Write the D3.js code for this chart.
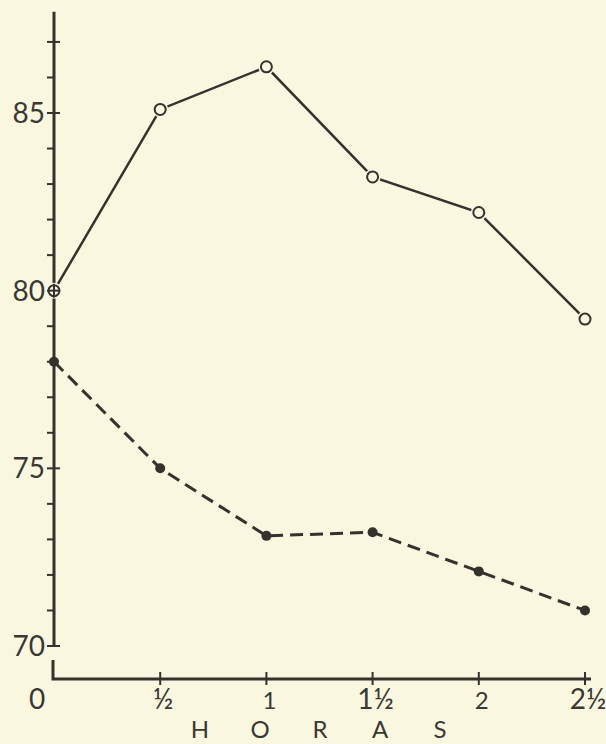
<!DOCTYPE html>
<html lang="es">
<head>
<meta charset="utf-8">
<title>Horas</title>
<script src="https://d3js.org/d3.v7.min.js"></script>
<style>
  body { margin: 0; background: #faf7e1; }
  svg { display: block; }
  .lbl { font-family: Lato, "Open Sans", sans-serif; font-weight: 400; fill: #3a3832; }
</style>
</head>
<body>
<div id="vis"></div>
<script>
// horas
const hours = [0, 0.5, 1, 1.5, 2, 2.5];
const hourLabels = ["0", "½", "1", "1½", "2", "2½"];
// open circles, solid line
const seriesA = [80, 85.1, 86.3, 83.2, 82.2, 79.2];
// filled dots, dashed line
const seriesB = [78.0, 75.0, 73.1, 73.2, 72.1, 71.0];
const yLabelled = [70, 75, 80, 85];
const yTicks = d3.range(70, 88);

const W = 606, H = 744;
const ink = "#34322c";
const bg = "#faf7e1";

const x = d3.scaleLinear().domain([0, 2.5]).range([54, 585]);
const y = d3.scaleLinear().domain([70, 85]).range([646, 113]);
const axisY = 679;

const svg = d3.select("#vis").append("svg")
  .attr("width", W).attr("height", H);

svg.append("rect").attr("width", W).attr("height", H).attr("fill", bg);

// y axis (broken below 70)
svg.append("line")
  .attr("x1", x(0)).attr("x2", x(0))
  .attr("y1", y(87.85)).attr("y2", y(70))
  .attr("stroke", ink).attr("stroke-width", 3);

svg.selectAll(".ytick").data(yTicks).enter().append("line")
  .attr("class", "ytick")
  .attr("x1", d => x(0) - 7)
  .attr("x2", d => (d % 5 === 0 || d === 87) ? x(0) + 6 : x(0))
  .attr("y1", d => y(d)).attr("y2", d => y(d))
  .attr("stroke", ink).attr("stroke-width", 2);

svg.selectAll(".ylab").data(yLabelled).enter().append("text")
  .attr("class", "lbl")
  .attr("x", 45).attr("y", d => y(d) + 10)
  .attr("text-anchor", "end")
  .attr("font-size", 28)
  .text(d => d);

// x axis with short L piece
svg.append("path")
  .attr("d", `M${x(0) - 1},660 L${x(0) - 1},${axisY} L${x(2.5) + 6},${axisY}`)
  .attr("fill", "none").attr("stroke", ink).attr("stroke-width", 3);

svg.selectAll(".xtick").data(hours.slice(1)).enter().append("line")
  .attr("x1", d => x(d)).attr("x2", d => x(d))
  .attr("y1", axisY - 7).attr("y2", axisY + 6)
  .attr("stroke", ink).attr("stroke-width", 2);

svg.selectAll(".xlab").data(hours).enter().append("text")
  .attr("class", "lbl")
  .attr("x", (d, i) => i === 0 ? x(d) - 17 : x(d) + 3)
  .attr("y", 709)
  .attr("text-anchor", "middle")
  .attr("font-size", (d, i) => i === 0 ? 28 : (i % 2 ? 28 : 24))
  .text((d, i) => hourLabels[i]);

svg.selectAll(".title").data("HORAS".split("")).enter().append("text")
  .attr("class", "lbl")
  .attr("x", (d, i) => 200 + i * 60)
  .attr("y", 738)
  .attr("text-anchor", "middle")
  .attr("font-size", 24)
  .text(d => d);

// lines
const line = d3.line().x((d, i) => x(hours[i])).y(d => y(d));

svg.append("path").datum(seriesB)
  .attr("d", line)
  .attr("fill", "none").attr("stroke", ink)
  .attr("stroke-width", 3).attr("stroke-dasharray", "13,7");

svg.append("path").datum(seriesA)
  .attr("d", line)
  .attr("fill", "none").attr("stroke", ink)
  .attr("stroke-width", 2.5);

svg.selectAll(".dotB").data(seriesB).enter().append("circle")
  .attr("cx", (d, i) => x(hours[i])).attr("cy", d => y(d))
  .attr("r", 5).attr("fill", ink);

svg.selectAll(".dotA").data(seriesA).enter().append("circle")
  .attr("cx", (d, i) => x(hours[i])).attr("cy", d => y(d))
  .attr("r", 8).attr("fill", bg);

svg.selectAll(".ringA").data(seriesA).enter().append("circle")
  .attr("cx", (d, i) => x(hours[i])).attr("cy", d => y(d))
  .attr("r", 5.5).attr("fill", "none")
  .attr("stroke", ink).attr("stroke-width", 2);

// axis crosses the first open circle
svg.append("line")
  .attr("x1", x(0)).attr("x2", x(0))
  .attr("y1", y(seriesA[0]) - 7).attr("y2", y(seriesA[0]) + 7)
  .attr("stroke", ink).attr("stroke-width", 2);
svg.append("line")
  .attr("x1", x(0) - 7).attr("x2", x(0) + 6)
  .attr("y1", y(80)).attr("y2", y(80))
  .attr("stroke", ink).attr("stroke-width", 2);
</script>
</body>
</html>
